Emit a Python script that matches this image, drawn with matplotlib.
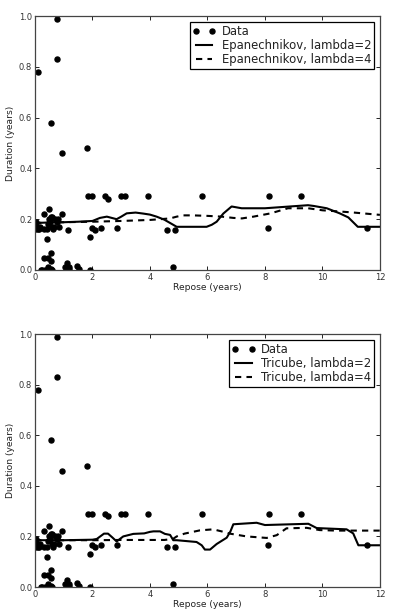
import matplotlib
matplotlib.use("Agg")
import matplotlib.pyplot as plt

# ---- data ----
repose = [0.03, 0.06, 0.09, 0.12, 0.15, 0.18, 0.02, 0.09,
          0.32, 0.32, 0.40, 0.41, 0.45, 0.50, 0.50, 0.52, 0.55, 0.58,
          0.60, 0.62, 0.65, 0.70, 0.75, 0.80, 0.85, 0.95,
          0.55, 0.78, 0.75, 0.94, 1.80, 1.14,
          1.85, 2.00, 2.43, 2.55, 3.00, 3.13, 3.92, 5.80, 8.15, 9.26,
          2.84, 1.91, 1.97, 2.08, 2.28, 4.60, 4.87, 4.79, 8.12, 11.56,
          0.56, 0.32, 0.44, 0.54, 0.20, 0.35, 0.45, 0.55, 0.60,
          1.04, 1.10, 1.18, 1.20, 1.45, 1.54, 1.91, 0.25]
duration = [0.16, 0.17, 0.16, 0.17, 0.16, 0.17, 0.19, 0.78,
            0.22, 0.16, 0.16, 0.12, 0.18, 0.24, 0.20, 0.19, 0.21, 0.17,
            0.21, 0.16, 0.17, 0.20, 0.19, 0.20, 0.17, 0.22,
            0.58, 0.99, 0.83, 0.46, 0.48, 0.157,
            0.29, 0.29, 0.29, 0.28, 0.29, 0.29, 0.29, 0.29, 0.29, 0.29,
            0.167, 0.13, 0.167, 0.157, 0.167, 0.157, 0.157, 0.01, 0.167, 0.167,
            0.068, 0.046, 0.046, 0.037, 0.0, 0.0, 0.01, 0.005, 0.0,
            0.01, 0.026, 0.01, 0.005, 0.015, 0.005, 0.0, 0.0]

epa2_x = [0, 0.5, 1, 1.5, 2, 2.26, 2.5, 2.84, 3.0, 3.19, 3.5, 3.77, 4.0, 4.23,
          4.5, 4.7, 4.93, 5.5, 5.97, 6.15, 6.32, 6.55, 6.84, 7.19, 8.0, 8.87,
          9.5, 9.7, 10.15, 10.6, 10.9, 11.23, 11.5, 12]
epa2_y = [0.185, 0.187, 0.188, 0.19, 0.193, 0.205, 0.21, 0.2, 0.21, 0.223,
          0.226, 0.222, 0.218, 0.21, 0.198, 0.185, 0.17, 0.17, 0.17, 0.178,
          0.19, 0.222, 0.25, 0.243, 0.243, 0.25, 0.255, 0.252, 0.243, 0.223,
          0.207, 0.17, 0.17, 0.17]

epa4_x = [0, 1, 2, 3, 4, 4.35, 4.7, 4.93, 5.16, 5.5, 6.0, 6.5, 6.9, 7.2, 7.6,
          8.2, 8.8, 9.5, 10.0, 11.0, 12]
epa4_y = [0.185, 0.188, 0.19, 0.193, 0.197, 0.2, 0.203, 0.21, 0.215, 0.215,
          0.213, 0.21, 0.205, 0.203, 0.21, 0.223, 0.243, 0.243, 0.235, 0.227,
          0.217]

tri2_x = [0, 1, 2.0, 2.15, 2.4, 2.54, 2.7, 2.84, 3.07, 3.42, 3.8, 4.0, 4.12,
          4.35, 4.52, 4.7, 4.81, 4.93, 5.62, 5.8, 5.91, 6.09, 6.32, 6.67, 6.8,
          6.9, 7.71, 8.0, 9.51, 9.8, 10.84, 11.07, 11.25, 12]
tri2_y = [0.185, 0.185, 0.187, 0.19, 0.211, 0.211, 0.195, 0.18, 0.2, 0.21,
          0.212, 0.218, 0.22, 0.22, 0.21, 0.206, 0.185, 0.185, 0.178, 0.165,
          0.148, 0.148, 0.17, 0.195, 0.22, 0.248, 0.254, 0.245, 0.25, 0.233,
          0.228, 0.212, 0.165, 0.165]

tri4_x = [0, 1, 2, 3, 4, 4.5, 4.8, 4.93, 5.2, 5.74, 6.2, 6.67, 6.78, 7.36,
          8.06, 8.41, 8.75, 9.45, 9.91, 10.5, 12]
tri4_y = [0.185, 0.185, 0.185, 0.186, 0.186, 0.186, 0.19, 0.2, 0.211, 0.224,
          0.228, 0.215, 0.211, 0.2, 0.194, 0.205, 0.232, 0.234, 0.225, 0.223,
          0.223]

x_ticks = [0, 2, 4, 6, 8, 10, 12]
y_ticks = [0.0, 0.2, 0.4, 0.6, 0.8, 1.0]

panels = [
    (epa2_x, epa2_y, epa4_x, epa4_y, "Epanechnikov, lambda=2", "Epanechnikov, lambda=4"),
    (tri2_x, tri2_y, tri4_x, tri4_y, "Tricube, lambda=2", "Tricube, lambda=4"),
]

fig = plt.figure(figsize=(3.96, 6.09), dpi=100)
fig.patch.set_facecolor("white")
rects = [[0.0884, 0.5567, 0.871, 0.417], [0.0884, 0.0361, 0.871, 0.4154]]

for rect, (x2, y2, x4, y4, l2, l4) in zip(rects, panels):
    ax = fig.add_axes(rect)
    ax.plot(repose, duration, "o", color="black", ms=3.6, label="Data")
    ax.plot(x2, y2, "-", color="black", lw=1.5, label=l2)
    ax.plot(x4, y4, color="black", lw=1.5, linestyle=(0, (3, 2.5)), label=l4)
    ax.set_xlim(0, 12)
    ax.set_ylim(0, 1.0)
    ax.set_xticks(x_ticks)
    ax.set_yticks(y_ticks)
    ax.set_xticklabels([str(t) for t in x_ticks])
    ax.set_yticklabels(["%.1f" % t for t in y_ticks])
    ax.tick_params(direction="in", top=True, right=True, labelsize=6,
                   length=3, width=0.6, pad=2, colors="black",
                   labelcolor="#333333")
    for s in ax.spines.values():
        s.set_linewidth(0.9)
        s.set_color("#444444")
    ax.set_xlabel("Repose (years)", fontsize=6.6, labelpad=1, color="#222222")
    ax.set_ylabel("Duration (years)", fontsize=6.6, labelpad=3, color="#222222")
    leg = ax.legend(loc="upper right", fontsize=8.4, numpoints=2, fancybox=False,
                    framealpha=1, borderaxespad=0.5, handlelength=2.0,
                    handletextpad=0.5, labelspacing=0.1, borderpad=0.25)
    leg.get_frame().set_edgecolor("black")
    leg.get_frame().set_linewidth(0.9)
    for t in leg.get_texts():
        t.set_color("#222222")

fig.savefig("out.png", dpi=100, facecolor="white")
